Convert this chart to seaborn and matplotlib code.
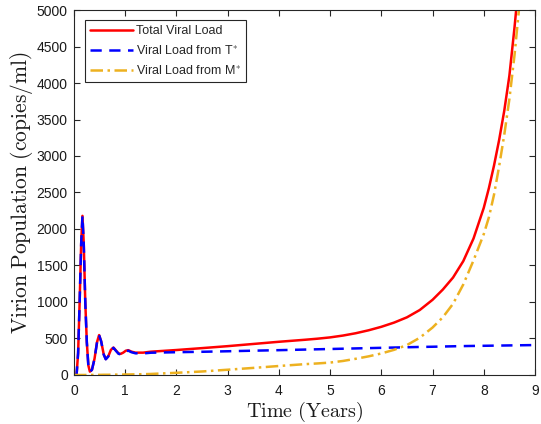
import numpy as np
import pandas as pd
import matplotlib
matplotlib.use("Agg")
import matplotlib.pyplot as plt
import seaborn as sns

# Time grid (years)
t = [0, 0.05, 0.08, 0.11, 0.14, 0.165, 0.19, 0.22, 0.25, 0.28, 0.31, 0.35, 0.4, 0.45, 0.49,
     0.53, 0.58, 0.62, 0.67, 0.72, 0.77, 0.82, 0.87, 0.91, 0.96, 1.01, 1.06, 1.12, 1.2, 1.35,
     1.5, 2, 2.5, 3, 3.5, 4, 4.5, 4.75, 5, 5.25, 5.5, 5.75, 6, 6.25, 6.5, 6.75, 7,
     7.2, 7.4, 7.6, 7.8, 8.0, 8.1, 8.2, 8.3, 8.4, 8.5, 8.6, 8.7, 8.8, 9.0]

# Viral load from T*
viral_T = [0, 0, 300, 1000, 1800, 2180, 1800, 1000, 450, 130, 45, 70, 220, 450, 545,
           460, 280, 215, 255, 340, 372, 330, 290, 283, 300, 325, 333, 312, 297, 295,
           305, 312, 318, 325, 333, 340, 348, 352, 356, 360, 364, 368, 372, 376, 380, 384, 387,
           390, 393, 396, 398, 400, 401, 402, 403, 404, 405, 406, 407, 408, 410]

# Viral load from M*
viral_M = [0, 0, 0, 0, 0, 0, 0, 0, 1, 1, 1, 1, 1, 2, 2,
           2, 3, 3, 3, 4, 4, 5, 5, 6, 6, 7, 7, 8, 9, 11,
           14, 30, 48, 72, 97, 123, 148, 158, 170, 192, 222, 255, 295, 345, 410, 510, 650,
           790, 975, 1240, 1570, 1930, 2160, 2470, 2860, 3290, 3780, 4380, 5100, 5900, 7800]

# Total viral load
viral_total = [0, 0, 300, 1000, 1800, 2180, 1800, 1000, 451, 131, 46, 71, 221, 452, 547,
               462, 283, 218, 258, 344, 376, 335, 295, 289, 306, 332, 340, 320, 306, 306,
               319, 342, 368, 395, 425, 455, 482, 497, 515, 540, 572, 612, 660, 718, 790, 890, 1030,
               1170, 1335, 1560, 1870, 2290, 2560, 2870, 3220, 3620, 4100, 4760, 5500, 6300, 8200]

labels = ["Total Viral Load", "Viral Load from T$^{*}$", "Viral Load from M$^{*}$"]
x_ticks = list(range(0, 10))
y_ticks = list(range(0, 5001, 500))

sns.set_style("ticks")
plt.rcParams["font.family"] = ["Liberation Sans", "DejaVu Sans"]
plt.rcParams["mathtext.fontset"] = "cm"

fig = plt.figure(figsize=(5.41, 4.24), dpi=100)
ax = fig.add_axes([0.1368, 0.1156, 0.9889 - 0.1368, 0.9764 - 0.1156])

df = pd.DataFrame({"t": t, "total": viral_total, "T": viral_T, "M": viral_M})
sns.lineplot(data=df, x="t", y="total", ax=ax, color="#FF0000", lw=1.8, label=labels[0])
sns.lineplot(data=df, x="t", y="T", ax=ax, color="#0000FF", lw=1.8, label=labels[1],
             linestyle=(0, (4.5, 3)))
sns.lineplot(data=df, x="t", y="M", ax=ax, color="#EDB120", lw=1.8, label=labels[2],
             linestyle=(0, (5, 1.8, 1, 1.8)))

ax.set_xlim(0, 9)
ax.set_ylim(0, 5000)
ax.set_xticks(x_ticks)
ax.set_yticks(y_ticks)
axc = "#262626"
for s in ax.spines.values():
    s.set_visible(True)
    s.set_color(axc)
    s.set_linewidth(0.8)
ax.tick_params(direction="in", top=True, right=True, length=4, width=0.8,
               colors=axc, labelsize=10, labelcolor="#1a1a1a")
ax.tick_params(axis="x", pad=6.5)
ax.tick_params(axis="y", pad=4.5)

ax.set_xlabel(r"$\mathrm{Time\ (Years)}$", fontsize=14.5, labelpad=1, color="#1a1a1a")
ax.set_ylabel(r"$\mathrm{Virion\ Population\ (copies/ml)}$", fontsize=15.5, labelpad=1.5,
              color="#1a1a1a")

leg = ax.legend(loc="upper left", bbox_to_anchor=(0.0239, 0.972), fontsize=9,
                frameon=True, fancybox=False, framealpha=1, edgecolor="#262626",
                handlelength=3.4, borderpad=0.4, labelspacing=0.55, handletextpad=0.3,
                borderaxespad=0)
leg.get_frame().set_linewidth(0.8)

fig.savefig("out.png", dpi=100)
